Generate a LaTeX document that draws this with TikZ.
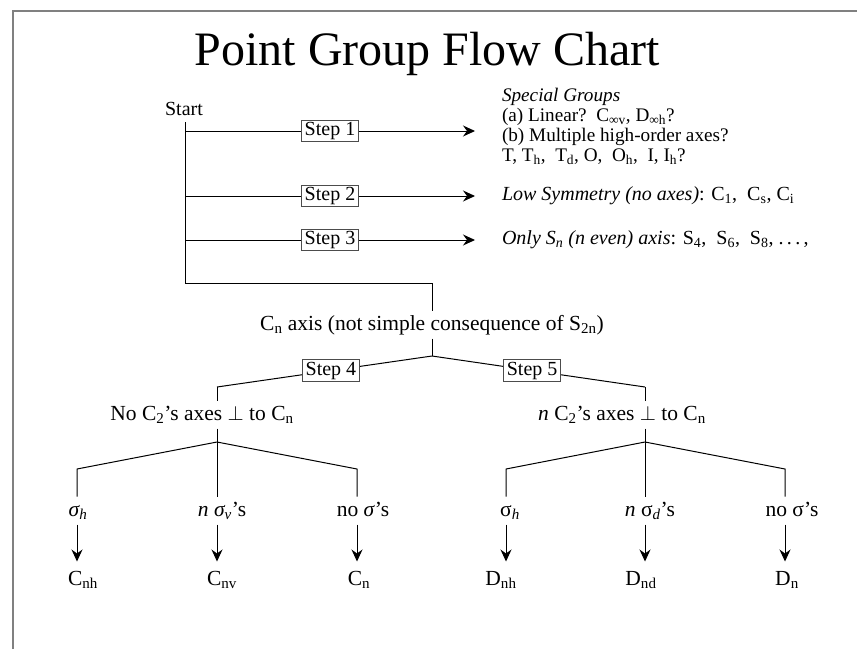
\documentclass[tikz,border=0pt]{standalone}
\usepackage{fontspec}
\setmainfont{Liberation Serif}
\usetikzlibrary{arrows.meta}

\begin{document}
\begin{tikzpicture}[x=10pt,y=-10pt,line width=1pt,
	txt/.style={font=\fontsize{20}{19}\selectfont, inner sep=1.5pt},
	tree/.style={font=\fontsize{21.5}{21.5}\selectfont, text height=16pt, text depth=5pt, inner xsep=1.5pt, inner ysep=3pt},
	stepbox/.style={draw=black!70, fill=white, line width=0.8pt, font=\fontsize{20}{20}\selectfont, inner xsep=3.5pt, inner ysep=2pt},
	arr/.style={-{Stealth[length=12pt,width=11pt,inset=4pt]}}]
				\useasboundingbox (0,0) rectangle (85.7,64.9);
				% frame
				\draw[black!50, line width=2pt] (1.3,64.9) -- (1.3,1.05) -- (85.7,1.05);
				\node[font=\fontsize{48}{48}\selectfont, anchor=base] (title) at (42.75,6.5) {Point Group Flow Chart};
				% start and the first three steps
				\node[txt,anchor=base] (start) at (18.4,11.5) {Start};
				\coordinate (t0) at (18.5,12.2);
				\coordinate (t1) at (18.5,13.1);
				\coordinate (t2) at (18.5,19.6);
				\coordinate (t3) at (18.5,24.0);
				\coordinate (bend) at (18.5,28.3);
				\coordinate (a1) at (47.5,13.1);
				\coordinate (a2) at (47.5,19.6);
				\coordinate (a3) at (47.5,24.0);
				\node[txt,font=\fontsize{19.2}{20}\selectfont,anchor=west,align=left] (special) at (50.0,12.6) {\textit{Special Groups}\\
					(a) Linear?\ \ C\textsubscript{∞v}, D\textsubscript{∞h}?\\
					(b) Multiple high-order axes?\\
					T, T\textsubscript{h},\ \ T\textsubscript{d}, O,\ \ O\textsubscript{h},\ \ I, I\textsubscript{h}?};
				\node[txt,anchor=west] (lowsym) at (50.0,19.6) {\textit{Low Symmetry (no axes)}: C\textsubscript{1},\ \ C\textsubscript{s}, C\textsubscript{i}};
				\node[txt,anchor=west] (onlysn) at (50.0,24.0) {\textit{Only S\textsubscript{n} (n even) axis}: S\textsubscript{4},\ \ S\textsubscript{6},\ \ S\textsubscript{8}, .\,.\,.\,,};
				\draw[arr] (t1) -- (a1) node[stepbox,midway] {Step 1};
				\draw[arr] (t2) -- (a2) node[stepbox,midway] {Step 2};
				\draw[arr] (t3) -- (a3) node[stepbox,midway] {Step 3};
				% C_n axis
				\node[tree] (cnaxis) at (43.2,32.45) {C\textsubscript{n} axis (not simple consequence of S\textsubscript{2n})};
				\draw (t0) -- (bend) -| (cnaxis.north);
				\coordinate (j0) at (43.2,35.6);
				\coordinate (L) at (21.7,38.7);
				\coordinate (R) at (64.5,38.7);
				\draw (cnaxis.south) -- (j0);
				\draw (j0) -- (L) node[stepbox,pos=0.47] {Step 4};
				\draw (j0) -- (R) node[stepbox,pos=0.47] {Step 5};
				\node[tree] (noC2) at (20.2,41.45) {No C\textsubscript{2}’s axes $\perp$ to C\textsubscript{n}};
				\node[tree] (nC2) at (62.2,41.45) {\textit{n} C\textsubscript{2}’s axes $\perp$ to C\textsubscript{n}};
				\draw (L) -- (L |- noC2.north);
				\draw (R) -- (R |- nC2.north);
				% left branch
				\coordinate (j1) at (21.7,44.2);
				\coordinate (b1) at (7.7,46.9);
				\coordinate (b2) at (21.7,46.9);
				\coordinate (b3) at (35.7,46.9);
				\node[tree] (sigh1) at (7.8,51.05) {\textit{σ\textsubscript{h}}};
				\node[tree] (sigv) at (22.2,51.05) {\textit{n σ\textsubscript{v}}’s};
				\node[tree] (nosig1) at (36.3,51.05) {no \textit{σ}’s};
				\node[tree] (cnh) at (8.3,57.95) {C\textsubscript{nh}};
				\node[tree] (cnv) at (22.2,57.95) {C\textsubscript{nv}};
				\node[tree] (cn) at (35.9,57.95) {C\textsubscript{n}};
				\draw (noC2.south -| j1) -- (j1);
				\draw (b1 |- sigh1.north) -- (b1) -- (j1) -- (b3) -- (b3 |- nosig1.north);
				\draw (j1) -- (b2 |- sigv.north);
				\draw[arr,shorten >=4pt] (sigh1.south -| b1) -- (b1 |- cnh.north);
				\draw[arr,shorten >=4pt] (sigv.south -| b2) -- (b2 |- cnv.north);
				\draw[arr,shorten >=4pt] (nosig1.south -| b3) -- (b3 |- cn.north);
				% right branch
				\coordinate (j2) at (64.5,44.2);
				\coordinate (d1) at (50.6,46.9);
				\coordinate (d2) at (64.5,46.9);
				\coordinate (d3) at (78.5,46.9);
				\node[tree] (sigh2) at (51.0,51.05) {σ\textsubscript{\textit{h}}};
				\node[tree] (sigd) at (65.0,51.05) {\textit{n} σ\textsubscript{\textit{d}}’s};
				\node[tree] (nosig2) at (79.2,51.05) {no σ’s};
				\node[tree] (dnh) at (50.1,57.95) {D\textsubscript{nh}};
				\node[tree] (dnd) at (64.1,57.95) {D\textsubscript{nd}};
				\node[tree] (dn) at (78.7,57.95) {D\textsubscript{n}};
				\draw (nC2.south -| j2) -- (j2);
				\draw (d1 |- sigh2.north) -- (d1) -- (j2) -- (d3) -- (d3 |- nosig2.north);
				\draw (j2) -- (d2 |- sigd.north);
				\draw[arr,shorten >=4pt] (sigh2.south -| d1) -- (d1 |- dnh.north);
				\draw[arr,shorten >=4pt] (sigd.south -| d2) -- (d2 |- dnd.north);
				\draw[arr,shorten >=4pt] (nosig2.south -| d3) -- (d3 |- dn.north);
			\end{tikzpicture}
\end{document}
